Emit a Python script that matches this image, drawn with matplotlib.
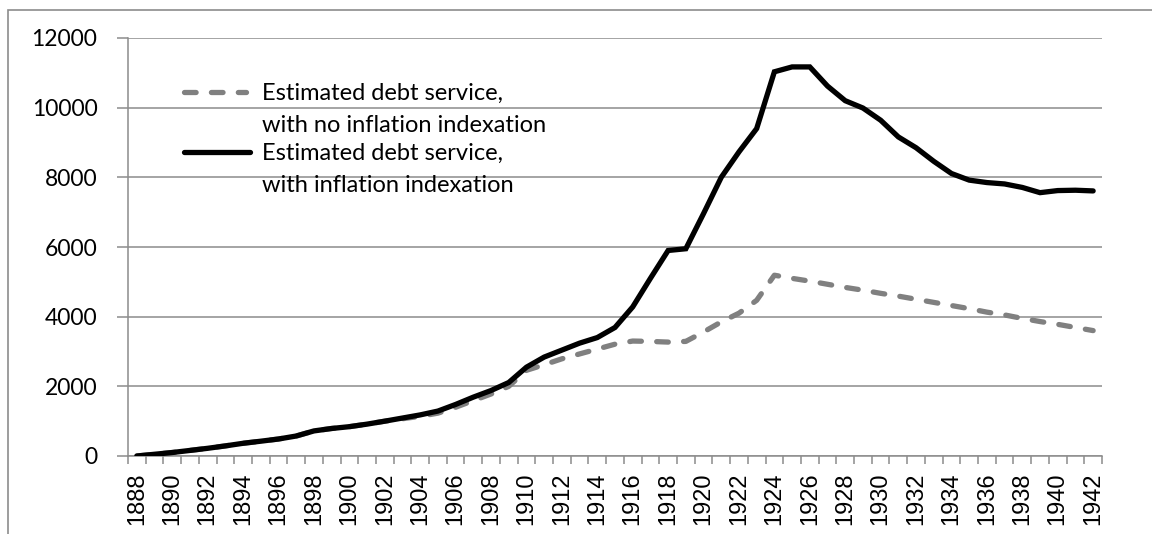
import matplotlib
matplotlib.use("Agg")
import matplotlib.pyplot as plt
from matplotlib.lines import Line2D
from matplotlib.patches import Rectangle

years = list(range(1888, 1943))
with_indexation = [0, 50, 100, 160, 221, 290, 365, 425, 488, 574,
                   720, 790, 842, 915, 1000, 1090, 1180, 1290, 1480, 1690,
                   1880, 2110, 2550, 2840, 3040, 3240, 3400, 3690, 4280, 5100,
                   5900, 5950, 6960, 8000, 8730, 9400, 11030, 11170, 11170, 10620,
                   10200, 9990, 9640, 9160, 8850, 8460, 8110, 7920, 7850, 7810,
                   7710, 7560, 7620, 7630, 7610]
no_indexation = [0, 50, 100, 160, 221, 290, 365, 425, 488, 574,
                 720, 790, 842, 915, 1000, 1070, 1140, 1230, 1400, 1590,
                 1780, 2000, 2460, 2620, 2790, 2930, 3070, 3210, 3300, 3290,
                 3270, 3290, 3560, 3850, 4100, 4470, 5190, 5100, 5020, 4930,
                 4840, 4760, 4670, 4590, 4500, 4410, 4320, 4230, 4130, 4050,
                 3950, 3860, 3780, 3690, 3600]
y_ticks = [0, 2000, 4000, 6000, 8000, 10000, 12000]
label_no = ["Estimated debt service,", "with no inflation indexation"]
label_yes = ["Estimated debt service,", "with inflation indexation"]

W, H = 1152, 534
fig = plt.figure(figsize=(W / 100, H / 100), dpi=100)
fig.patch.set_facecolor("white")

# outer chart border (top & left visible)
fig.add_artist(Rectangle((8 / W, -0.1), 1.2, (H - 10) / H + 0.1,
                         transform=fig.transFigure, fill=False,
                         edgecolor="#8c8c8c", linewidth=1.2))

ax = fig.add_axes([128 / W, (H - 456) / H, (1102 - 128) / W, (456 - 38) / H])
x = list(range(len(years)))
grid_c = "#8c8c8c"

ax.plot(x, no_indexation, color="#808080", linewidth=3.8,
        linestyle=(0, (2.2, 2.9)), dash_capstyle="round", solid_capstyle="round",
        zorder=3)
ax.plot(x, with_indexation, color="black", linewidth=3.8,
        solid_capstyle="round", solid_joinstyle="miter", zorder=4)

ax.set_xlim(-0.5, len(years) - 0.5)
ax.set_ylim(0, 12000)
ax.set_yticks(y_ticks)
ax.set_yticklabels([str(v) for v in y_ticks], fontfamily="Lato", fontsize=16.5)
ax.yaxis.grid(True, color=grid_c, linewidth=1.1)
ax.set_axisbelow(True)

ax.set_xticks(x[::2])
ax.set_xticklabels([str(y) for y in years[::2]], rotation=90,
                   fontfamily="Liberation Sans", fontsize=17)
ax.set_xticks([i - 0.5 for i in range(len(years) + 1)], minor=True)
ax.tick_params(axis="x", which="major", length=0, pad=12)
ax.tick_params(axis="x", which="minor", length=6, color=grid_c, width=1.1)
ax.tick_params(axis="y", length=8, color=grid_c, width=1.1, pad=14)

for s in ["top", "right"]:
    ax.spines[s].set_visible(False)
for s in ["left", "bottom"]:
    ax.spines[s].set_color(grid_c)
    ax.spines[s].set_linewidth(1.1)

# legend (manual layout in axes coordinates)
def ay(py):
    return (456 - py) / 418

def axx(px):
    return (px - 128) / 974

ax.add_line(Line2D([axx(184), axx(246)], [ay(92), ay(92)], transform=ax.transAxes,
                   color="#808080", linewidth=3.8, linestyle=(0, (2.2, 2.9)),
                   dash_capstyle="round", zorder=5))
ax.add_line(Line2D([axx(184), axx(250)], [ay(152), ay(152)], transform=ax.transAxes,
                   color="black", linewidth=3.8, solid_capstyle="round", zorder=5))
tkw = dict(transform=ax.transAxes, fontfamily="Lato", fontsize=17,
           va="center", ha="left", zorder=6)
ax.text(axx(262), ay(93), label_no[0], **tkw)
ax.text(axx(262), ay(126), label_no[1], **tkw)
ax.text(axx(262), ay(153), label_yes[0], **tkw)
ax.text(axx(262), ay(185), label_yes[1], **tkw)

fig.savefig("out.png", dpi=100)
